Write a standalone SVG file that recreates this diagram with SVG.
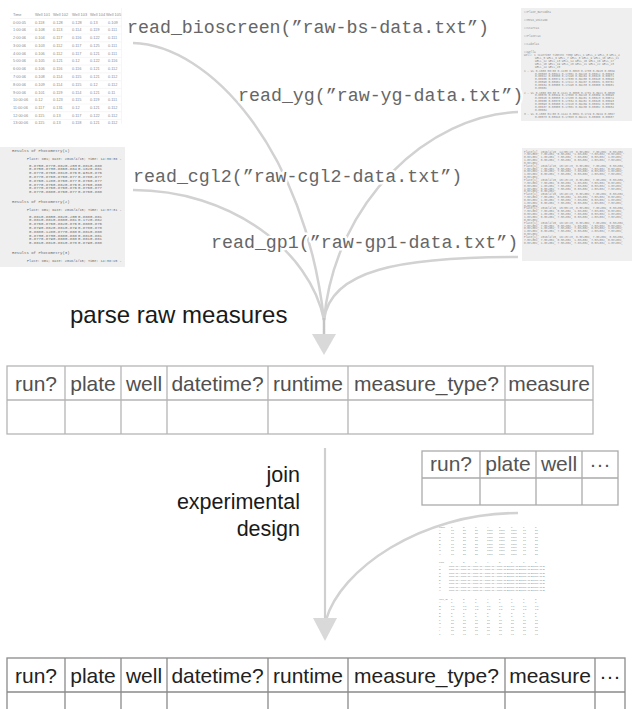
<svg xmlns="http://www.w3.org/2000/svg" width="632" height="709" viewBox="0 0 632 709">
<style>
.mono{font-family:"Liberation Mono","DejaVu Sans Mono",monospace;font-size:18.3px;fill:#666;stroke:#fff;stroke-width:5;stroke-linejoin:round;paint-order:stroke}
.big{font-family:"Liberation Sans",Arial,sans-serif;fill:#1a1a1a}
.th{font-family:"Liberation Sans",Arial,sans-serif;font-size:21px;text-anchor:middle}
.grid{fill:none;stroke-width:1.3}
.conn{fill:none;stroke:#d2d2d2;stroke-width:2.5}
.tt{font-family:"Liberation Sans",Arial,sans-serif;font-size:3.9px;fill:#8a8a8a}
.tm{font-family:"Liberation Mono","DejaVu Sans Mono",monospace;font-size:4px;fill:#6a6a6a}
.tp{font-family:"Liberation Mono","DejaVu Sans Mono",monospace;font-size:3.5px;fill:#6a6a6a}
.td{font-family:"Liberation Mono","DejaVu Sans Mono",monospace;font-size:2.8px;fill:#8c8c8c}
.tb{font-family:"Liberation Sans",Arial,sans-serif;font-size:2.5px;fill:#8a8a8a}
.panel{fill:#efefef}
</style>
<rect width="632" height="709" fill="#fff"/>

<g id="thumb-bioscreen">
<g stroke="#ececec" stroke-width="0.5">
<line x1="10" y1="18.5" x2="121" y2="18.5"/><line x1="10" y1="26.3" x2="121" y2="26.3"/><line x1="10" y1="34" x2="121" y2="34"/><line x1="10" y1="41.8" x2="121" y2="41.8"/><line x1="10" y1="49.6" x2="121" y2="49.6"/><line x1="10" y1="57.4" x2="121" y2="57.4"/><line x1="10" y1="65.1" x2="121" y2="65.1"/><line x1="10" y1="72.9" x2="121" y2="72.9"/><line x1="10" y1="80.7" x2="121" y2="80.7"/><line x1="10" y1="88.4" x2="121" y2="88.4"/><line x1="10" y1="96.2" x2="121" y2="96.2"/><line x1="10" y1="104" x2="121" y2="104"/><line x1="10" y1="111.7" x2="121" y2="111.7"/><line x1="10" y1="119.5" x2="121" y2="119.5"/>
<line x1="121.5" y1="8" x2="121.5" y2="124"/>
</g>
<text class="tt" y="15.8"><tspan x="13">Time</tspan><tspan x="35">Well 101</tspan><tspan x="53">Well 102</tspan><tspan x="72">Well 103</tspan><tspan x="90">Well 104</tspan><tspan x="106">Well 105</tspan></text>
<text class="tt" y="23.6"><tspan x="13">0:00:05</tspan><tspan x="35">0.118</tspan><tspan x="53">0.128</tspan><tspan x="72">0.128</tspan><tspan x="90">0.13</tspan><tspan x="108">0.109</tspan></text>
<text class="tt" y="31.3"><tspan x="13">1:00:06</tspan><tspan x="35">0.108</tspan><tspan x="53">0.113</tspan><tspan x="72">0.114</tspan><tspan x="90">0.119</tspan><tspan x="108">0.111</tspan></text>
<text class="tt" y="39.1"><tspan x="13">2:00:06</tspan><tspan x="35">0.104</tspan><tspan x="53">0.117</tspan><tspan x="72">0.116</tspan><tspan x="90">0.122</tspan><tspan x="108">0.111</tspan></text>
<text class="tt" y="46.9"><tspan x="13">3:00:06</tspan><tspan x="35">0.103</tspan><tspan x="53">0.112</tspan><tspan x="72">0.117</tspan><tspan x="90">0.125</tspan><tspan x="108">0.111</tspan></text>
<text class="tt" y="54.7"><tspan x="13">4:00:06</tspan><tspan x="35">0.106</tspan><tspan x="53">0.112</tspan><tspan x="72">0.117</tspan><tspan x="90">0.121</tspan><tspan x="108">0.111</tspan></text>
<text class="tt" y="62.4"><tspan x="13">5:00:06</tspan><tspan x="35">0.105</tspan><tspan x="53">0.121</tspan><tspan x="72">0.12</tspan><tspan x="90">0.122</tspan><tspan x="108">0.116</tspan></text>
<text class="tt" y="70.2"><tspan x="13">6:00:06</tspan><tspan x="35">0.106</tspan><tspan x="53">0.116</tspan><tspan x="72">0.116</tspan><tspan x="90">0.121</tspan><tspan x="108">0.112</tspan></text>
<text class="tt" y="78"><tspan x="13">7:00:06</tspan><tspan x="35">0.108</tspan><tspan x="53">0.114</tspan><tspan x="72">0.115</tspan><tspan x="90">0.121</tspan><tspan x="108">0.112</tspan></text>
<text class="tt" y="85.7"><tspan x="13">8:00:06</tspan><tspan x="35">0.109</tspan><tspan x="53">0.114</tspan><tspan x="72">0.115</tspan><tspan x="90">0.12</tspan><tspan x="108">0.112</tspan></text>
<text class="tt" y="93.5"><tspan x="13">9:00:06</tspan><tspan x="35">0.101</tspan><tspan x="53">0.119</tspan><tspan x="72">0.114</tspan><tspan x="90">0.121</tspan><tspan x="108">0.11</tspan></text>
<text class="tt" y="101.3"><tspan x="13">10:00:06</tspan><tspan x="35">0.12</tspan><tspan x="53">0.123</tspan><tspan x="72">0.115</tspan><tspan x="90">0.119</tspan><tspan x="108">0.111</tspan></text>
<text class="tt" y="109"><tspan x="13">11:00:06</tspan><tspan x="35">0.117</tspan><tspan x="53">0.131</tspan><tspan x="72">0.12</tspan><tspan x="90">0.121</tspan><tspan x="108">0.112</tspan></text>
<text class="tt" y="116.8"><tspan x="13">12:00:06</tspan><tspan x="35">0.115</tspan><tspan x="53">0.13</tspan><tspan x="72">0.117</tspan><tspan x="90">0.122</tspan><tspan x="108">0.112</tspan></text>
<text class="tt" y="123.6"><tspan x="13">13:00:06</tspan><tspan x="35">0.115</tspan><tspan x="53">0.13</tspan><tspan x="72">0.118</tspan><tspan x="90">0.121</tspan><tspan x="108">0.112</tspan></text>
</g>

<g id="thumb-yg">
<rect class="panel" x="521" y="8" width="111" height="113"/>
<text class="td"><tspan x="524" y="12.5">##Plate_Barcode=</tspan><tspan x="524" y="20.5">##Meas_Unit=OD</tspan><tspan x="524" y="28.5">##Start=1</tspan><tspan x="524" y="36.5">##Plate#=1</tspan><tspan x="524" y="44.5">##Label=1</tspan><tspan x="524" y="52.5">##Well=</tspan></text>
<text class="td"><tspan x="524" y="56">Well: 1 ScanTime TimeInt Temp WELL_1 WELL_2 WELL_3 WELL_4</tspan><tspan x="535" dy="2.9">WELL_5 WELL_6 WELL_7 WELL_8 WELL_9 WELL_10 WELL_11</tspan><tspan x="535" dy="2.9">WELL_12 WELL_13 WELL_14 WELL_15 WELL_16 WELL_17</tspan><tspan x="535" dy="2.9">WELL_18 WELL_19 WELL_20 WELL_21 WELL_22 WELL_23</tspan><tspan x="535" dy="2.9">WELL_24 WELL_25</tspan>
<tspan x="524" dy="4">1 - WL 0.1000 00:00 0.1138 0.0863 0.1735 0.0925 0.0869</tspan><tspan x="535" dy="2.9">0.08563 0.08621 0.17351 0.09215 0.08612 0.08693</tspan><tspan x="535" dy="2.9">0.08612 0.08530 0.17290 0.09284 0.08620 0.08671</tspan><tspan x="535" dy="2.9">0.08655 0.08574 0.17330 0.09250 0.08648 0.08690</tspan><tspan x="535" dy="2.9">0.08590 0.08602 0.17412 0.09207 0.08631 0.08702</tspan><tspan x="535" dy="2.9">0.08634 0.08588 0.17298 0.09233 0.08655 0.08681</tspan><tspan x="535" dy="2.9">0.08601</tspan>
<tspan x="524" dy="4.5">2 - WL 0.1000 00:30 0.1141 0.0858 0.1731 0.0921 0.0865</tspan><tspan x="535" dy="2.9">0.08570 0.08619 0.17360 0.09218 0.08609 0.08690</tspan><tspan x="535" dy="2.9">0.08615 0.08533 0.17288 0.09281 0.08623 0.08674</tspan><tspan x="535" dy="2.9">0.08658 0.08570 0.17334 0.09252 0.08645 0.08693</tspan><tspan x="535" dy="2.9">0.08593 0.08600 0.17410 0.09209 0.08634 0.08700</tspan><tspan x="535" dy="2.9">0.08637 0.08585 0.17301 0.09230 0.08652 0.08684</tspan><tspan x="535" dy="2.9">0.08604</tspan>
<tspan x="524" dy="4.5">3 - WL 0.1000 01:00 0.1144 0.0861 0.1729 0.0919 0.0867</tspan><tspan x="535" dy="2.9">0.08573 0.08616 0.17363 0.09221 0.08606 0.08687</tspan></text>
</g>

<g id="thumb-cgl2">
<rect class="panel" x="0" y="147" width="125" height="120"/>
<text class="tm" x="12" y="152">Results of Photometry(1)</text>
<text class="tp" x="27" y="159.5">Plate: CG1; Date: 2016/4/15; Time: 14:36:36 -</text>
<text class="tm"><tspan x="29" y="166.5">0.875</tspan><tspan x="41">0.877</tspan><tspan x="53">0.882</tspan><tspan x="65">0.203</tspan><tspan x="78">0.881</tspan><tspan x="90">0.888</tspan>
<tspan x="29" y="170.3">0.875</tspan><tspan x="41">0.873</tspan><tspan x="53">0.886</tspan><tspan x="65">0.884</tspan><tspan x="78">0.182</tspan><tspan x="90">0.881</tspan>
<tspan x="29" y="174.1">0.877</tspan><tspan x="41">0.876</tspan><tspan x="53">0.881</tspan><tspan x="65">0.876</tspan><tspan x="78">0.931</tspan><tspan x="90">0.876</tspan>
<tspan x="29" y="177.9">0.877</tspan><tspan x="41">0.876</tspan><tspan x="53">0.876</tspan><tspan x="65">0.877</tspan><tspan x="78">0.878</tspan><tspan x="90">0.877</tspan>
<tspan x="29" y="181.7">0.876</tspan><tspan x="41">0.128</tspan><tspan x="53">0.876</tspan><tspan x="65">0.877</tspan><tspan x="78">0.876</tspan><tspan x="90">0.877</tspan>
<tspan x="29" y="185.5">0.877</tspan><tspan x="41">0.876</tspan><tspan x="53">0.882</tspan><tspan x="65">0.876</tspan><tspan x="78">0.876</tspan><tspan x="90">0.888</tspan>
<tspan x="29" y="189.3">0.877</tspan><tspan x="41">0.876</tspan><tspan x="53">0.876</tspan><tspan x="65">0.876</tspan><tspan x="78">0.876</tspan><tspan x="90">0.877</tspan>
<tspan x="29" y="193.1">0.877</tspan><tspan x="41">0.888</tspan><tspan x="53">0.876</tspan><tspan x="65">0.877</tspan><tspan x="78">0.876</tspan><tspan x="90">0.888</tspan></text>
<text class="tm" x="12" y="203">Results of Photometry(2)</text>
<text class="tp" x="27" y="210.5">Plate: CG1; Date: 2016/4/15; Time: 14:37:31 -</text>
<text class="tm"><tspan x="29" y="217.5">0.881</tspan><tspan x="41">0.880</tspan><tspan x="53">0.882</tspan><tspan x="65">0.200</tspan><tspan x="78">0.888</tspan><tspan x="90">0.881</tspan>
<tspan x="29" y="221.3">0.881</tspan><tspan x="41">0.881</tspan><tspan x="53">0.888</tspan><tspan x="65">0.881</tspan><tspan x="78">0.172</tspan><tspan x="90">0.882</tspan>
<tspan x="29" y="225.1">0.876</tspan><tspan x="41">0.876</tspan><tspan x="53">0.882</tspan><tspan x="65">0.876</tspan><tspan x="78">0.888</tspan><tspan x="90">0.876</tspan>
<tspan x="29" y="228.9">0.879</tspan><tspan x="41">0.882</tspan><tspan x="53">0.881</tspan><tspan x="65">0.879</tspan><tspan x="78">0.878</tspan><tspan x="90">0.878</tspan>
<tspan x="29" y="232.7">0.888</tspan><tspan x="41">0.128</tspan><tspan x="53">0.877</tspan><tspan x="65">0.888</tspan><tspan x="78">0.881</tspan><tspan x="90">0.888</tspan>
<tspan x="29" y="236.5">0.873</tspan><tspan x="41">0.873</tspan><tspan x="53">0.888</tspan><tspan x="65">0.888</tspan><tspan x="78">0.881</tspan><tspan x="90">0.881</tspan>
<tspan x="29" y="240.3">0.877</tspan><tspan x="41">0.879</tspan><tspan x="53">0.888</tspan><tspan x="65">0.888</tspan><tspan x="78">0.881</tspan><tspan x="90">0.881</tspan>
<tspan x="29" y="244.1">0.881</tspan><tspan x="41">0.881</tspan><tspan x="53">0.881</tspan><tspan x="65">0.878</tspan><tspan x="78">0.879</tspan><tspan x="90">0.888</tspan></text>
<text class="tm" x="12" y="254">Results of Photometry(3)</text>
<text class="tp" x="27" y="261.5">Plate: CG1; Date: 2016/4/15; Time: 14:38:15 -</text>
</g>

<g id="thumb-gp1">
<rect class="panel" x="522" y="148" width="110" height="113"/>
<text class="td"><tspan x="524" y="152.5">Plate[1], 2016/4/15, 14:55:23, 0.5e+002, 7.0e+002, 0.5e+002,</tspan><tspan x="524" dy="2.85">7.5e+002, 7.5e+002, 0.5e+002, 1.0e+002, 7.5e+002, 0.5e+002,</tspan><tspan x="524" dy="2.85">0.5e+002, 1.0e+002, 7.5e+002, 7.0e+002, 0.5e+002, 1.0e+002,</tspan><tspan x="524" dy="2.85">1.0e+002, 0.5e+002, 7.5e+002, 0.5e+002, 2.0e+002, 7.5e+002,</tspan><tspan x="524" dy="2.85">0.5e+002,</tspan>
<tspan x="524" dy="2.85">Plate[1], 2016/4/15, 15:10:23, 0.5e+002, 7.0e+002, 0.5e+002,</tspan><tspan x="524" dy="2.85">7.5e+002, 7.5e+002, 0.5e+002, 1.0e+002, 7.5e+002, 0.5e+002,</tspan><tspan x="524" dy="2.85">0.5e+002, 1.0e+002, 7.5e+002, 7.0e+002, 0.5e+002, 1.0e+002,</tspan><tspan x="524" dy="2.85">1.0e+002, 0.5e+002, 7.5e+002, 0.5e+002, 2.0e+002, 7.5e+002,</tspan><tspan x="524" dy="2.85">0.5e+002,</tspan>
<tspan x="524" dy="2.85">Plate[1], 2016/4/15, 15:25:23, 0.5e+002, 7.0e+002, 0.5e+002,</tspan><tspan x="524" dy="2.85">7.5e+002, 7.5e+002, 0.5e+002, 1.0e+002, 7.5e+002, 0.5e+002,</tspan><tspan x="524" dy="2.85">0.5e+002, 1.0e+002, 7.5e+002, 7.0e+002, 0.5e+002, 1.0e+002,</tspan><tspan x="524" dy="2.85">1.0e+002, 0.5e+002, 7.5e+002, 0.5e+002, 2.0e+002, 7.5e+002,</tspan><tspan x="524" dy="2.85">0.5e+002, 0.5e+002,</tspan>
<tspan x="524" dy="2.85">Plate[1], 2016/4/15, 15:40:23, 0.5e+002, 7.0e+002, 0.5e+002,</tspan><tspan x="524" dy="2.85">7.5e+002, 7.5e+002, 0.5e+002, 1.0e+002, 7.5e+002, 0.5e+002,</tspan><tspan x="524" dy="2.85">0.5e+002, 1.0e+002, 7.5e+002, 7.0e+002, 0.5e+002, 1.0e+002,</tspan><tspan x="524" dy="2.85">1.0e+002, 0.5e+002, 7.5e+002, 0.5e+002, 2.0e+002, 7.5e+002,</tspan><tspan x="524" dy="2.85">0.5e+002,</tspan>
<tspan x="524" dy="2.85">Plate[1], 2016/4/15, 15:55:23, 0.5e+002, 7.0e+002, 0.5e+002,</tspan><tspan x="524" dy="2.85">7.5e+002, 7.5e+002, 0.5e+002, 1.0e+002, 7.5e+002, 0.5e+002,</tspan><tspan x="524" dy="2.85">0.5e+002, 1.0e+002, 7.5e+002, 7.0e+002, 0.5e+002, 1.0e+002,</tspan><tspan x="524" dy="2.85">1.0e+002, 0.5e+002, 7.5e+002, 0.5e+002, 2.0e+002, 7.5e+002,</tspan><tspan x="524" dy="2.85">0.5e+002,</tspan>
<tspan x="524" dy="2.85">Plate[1], 2016/4/15, 16:10:23, 0.5e+002, 7.0e+002, 0.5e+002,</tspan><tspan x="524" dy="2.85">7.5e+002, 7.5e+002, 0.5e+002, 1.0e+002, 7.5e+002, 0.5e+002,</tspan><tspan x="524" dy="2.85">0.5e+002, 1.0e+002, 7.5e+002, 7.0e+002, 0.5e+002, 1.0e+002,</tspan><tspan x="524" dy="2.85">1.0e+002, 0.5e+002, 7.5e+002, 0.5e+002, 2.0e+002, 7.5e+002,</tspan><tspan x="524" dy="2.85">0.5e+002,</tspan>
<tspan x="524" dy="2.85">Plate[1], 2016/4/15, 16:25:23, 0.5e+002, 7.0e+002, 0.5e+002,</tspan><tspan x="524" dy="2.85">7.5e+002, 7.5e+002, 0.5e+002, 1.0e+002, 7.5e+002, 0.5e+002,</tspan><tspan x="524" dy="2.85">0.5e+002, 1.0e+002, 7.5e+002, 7.0e+002, 0.5e+002, 1.0e+002,</tspan></text>
</g>

<g id="thumb-design">
<text class="tb"><tspan y="527.5" x="439">name</tspan><tspan x="451">1</tspan><tspan x="463">2</tspan><tspan x="475">3</tspan><tspan x="487">4</tspan><tspan x="499">5</tspan><tspan x="511">6</tspan><tspan x="523">7</tspan><tspan x="535">8</tspan>
<tspan y="531" x="439">A</tspan><tspan x="451">10</tspan><tspan x="463">20</tspan><tspan x="475">20</tspan><tspan x="487">1000</tspan><tspan x="499">1000</tspan><tspan x="511">1000</tspan><tspan x="523">10</tspan><tspan x="535">20</tspan>
<tspan y="534.4" x="439">B</tspan><tspan x="451">10</tspan><tspan x="463">20</tspan><tspan x="475">20</tspan><tspan x="487">1000</tspan><tspan x="499">1000</tspan><tspan x="511">1000</tspan><tspan x="523">10</tspan><tspan x="535">20</tspan>
<tspan y="537.8" x="439">C</tspan><tspan x="451">10</tspan><tspan x="463">20</tspan><tspan x="475">20</tspan><tspan x="487">1000</tspan><tspan x="499">1000</tspan><tspan x="511">1000</tspan><tspan x="523">10</tspan><tspan x="535">20</tspan>
<tspan y="541.2" x="439">D</tspan><tspan x="451">10</tspan><tspan x="463">20</tspan><tspan x="475">20</tspan><tspan x="487">1000</tspan><tspan x="499">1000</tspan><tspan x="511">1000</tspan><tspan x="523">10</tspan><tspan x="535">20</tspan>
<tspan y="544.6" x="439">E</tspan><tspan x="451">10</tspan><tspan x="463">20</tspan><tspan x="475">20</tspan><tspan x="487">1000</tspan><tspan x="499">1000</tspan><tspan x="511">1000</tspan><tspan x="523">10</tspan><tspan x="535">20</tspan>
<tspan y="548" x="439">F</tspan><tspan x="451">10</tspan><tspan x="463">20</tspan><tspan x="475">20</tspan><tspan x="487">1000</tspan><tspan x="499">1000</tspan><tspan x="511">1000</tspan><tspan x="523">10</tspan><tspan x="535">20</tspan>
<tspan y="551.4" x="439">G</tspan><tspan x="451">10</tspan><tspan x="463">20</tspan><tspan x="475">20</tspan><tspan x="487">1000</tspan><tspan x="499">1000</tspan><tspan x="511">1000</tspan><tspan x="523">10</tspan><tspan x="535">20</tspan>
<tspan y="554.8" x="439">H</tspan><tspan x="451">10</tspan><tspan x="463">20</tspan><tspan x="475">20</tspan><tspan x="487">1000</tspan><tspan x="499">1000</tspan><tspan x="511">1000</tspan><tspan x="523">10</tspan><tspan x="535">20</tspan></text>
<text class="tb"><tspan y="563" x="439">Flag</tspan><tspan x="451">1</tspan><tspan x="463">2</tspan><tspan x="475">3</tspan><tspan x="487">4</tspan><tspan x="499">5</tspan><tspan x="511">6</tspan><tspan x="523">7</tspan><tspan x="535">8</tspan>
<tspan y="566.5" x="439">A</tspan><tspan x="449">STRAIN-A</tspan><tspan x="461">STRAIN-A</tspan><tspan x="473">STRAIN-A</tspan><tspan x="485">STRAIN-A</tspan><tspan x="497">STRAIN-B</tspan><tspan x="509">STRAIN-B</tspan><tspan x="521">STRAIN-B</tspan><tspan x="533">STRAIN-B</tspan>
<tspan y="570" x="439">B</tspan><tspan x="449">STRAIN-A</tspan><tspan x="461">STRAIN-A</tspan><tspan x="473">STRAIN-A</tspan><tspan x="485">STRAIN-A</tspan><tspan x="497">STRAIN-B</tspan><tspan x="509">STRAIN-B</tspan><tspan x="521">STRAIN-B</tspan><tspan x="533">STRAIN-B</tspan>
<tspan y="573.5" x="439">C</tspan><tspan x="449">STRAIN-A</tspan><tspan x="461">STRAIN-A</tspan><tspan x="473">STRAIN-A</tspan><tspan x="485">STRAIN-A</tspan><tspan x="497">STRAIN-B</tspan><tspan x="509">STRAIN-B</tspan><tspan x="521">STRAIN-B</tspan><tspan x="533">STRAIN-B</tspan>
<tspan y="577" x="439">D</tspan><tspan x="449">STRAIN-A</tspan><tspan x="461">STRAIN-A</tspan><tspan x="473">STRAIN-A</tspan><tspan x="485">STRAIN-A</tspan><tspan x="497">STRAIN-B</tspan><tspan x="509">STRAIN-B</tspan><tspan x="521">STRAIN-B</tspan><tspan x="533">STRAIN-B</tspan>
<tspan y="580.5" x="439">E</tspan><tspan x="449">STRAIN-A</tspan><tspan x="461">STRAIN-A</tspan><tspan x="473">STRAIN-A</tspan><tspan x="485">STRAIN-A</tspan><tspan x="497">STRAIN-B</tspan><tspan x="509">STRAIN-B</tspan><tspan x="521">STRAIN-B</tspan><tspan x="533">STRAIN-B</tspan>
<tspan y="584" x="439">F</tspan><tspan x="449">STRAIN-A</tspan><tspan x="461">STRAIN-A</tspan><tspan x="473">STRAIN-A</tspan><tspan x="485">STRAIN-A</tspan><tspan x="497">STRAIN-B</tspan><tspan x="509">STRAIN-B</tspan><tspan x="521">STRAIN-B</tspan><tspan x="533">STRAIN-B</tspan>
<tspan y="587.5" x="439">G</tspan><tspan x="449">STRAIN-A</tspan><tspan x="461">STRAIN-A</tspan><tspan x="473">STRAIN-A</tspan><tspan x="485">STRAIN-A</tspan><tspan x="497">STRAIN-B</tspan><tspan x="509">STRAIN-B</tspan><tspan x="521">STRAIN-B</tspan><tspan x="533">STRAIN-B</tspan>
<tspan y="591" x="439">H</tspan><tspan x="449">STRAIN-A</tspan><tspan x="461">STRAIN-A</tspan><tspan x="473">STRAIN-A</tspan><tspan x="485">STRAIN-A</tspan><tspan x="497">STRAIN-B</tspan><tspan x="509">STRAIN-B</tspan><tspan x="521">STRAIN-B</tspan><tspan x="533">STRAIN-B</tspan></text>
<text class="tb"><tspan y="599.5" x="439">Well_ID</tspan><tspan x="451">1</tspan><tspan x="463">2</tspan><tspan x="475">3</tspan><tspan x="487">4</tspan><tspan x="499">5</tspan><tspan x="511">6</tspan><tspan x="523">7</tspan><tspan x="535">8</tspan>
<tspan y="603" x="439">A</tspan><tspan x="451">0</tspan><tspan x="463">0</tspan><tspan x="475">0</tspan><tspan x="487">0</tspan><tspan x="499">0</tspan><tspan x="511">0</tspan><tspan x="523">0</tspan><tspan x="535">0</tspan>
<tspan y="606.5" x="439">B</tspan><tspan x="451">0.1</tspan><tspan x="463">0.1</tspan><tspan x="475">0.1</tspan><tspan x="487">0.1</tspan><tspan x="499">0.1</tspan><tspan x="511">0.1</tspan><tspan x="523">0.1</tspan><tspan x="535">0.1</tspan>
<tspan y="610" x="439">C</tspan><tspan x="451">1.5</tspan><tspan x="463">1.5</tspan><tspan x="475">1.5</tspan><tspan x="487">1.5</tspan><tspan x="499">1.5</tspan><tspan x="511">1.5</tspan><tspan x="523">1.5</tspan><tspan x="535">1.5</tspan>
<tspan y="613.5" x="439">D</tspan><tspan x="451">5</tspan><tspan x="463">5</tspan><tspan x="475">5</tspan><tspan x="487">5</tspan><tspan x="499">5</tspan><tspan x="511">5</tspan><tspan x="523">5</tspan><tspan x="535">5</tspan>
<tspan y="617" x="439">E</tspan><tspan x="451">8</tspan><tspan x="463">8</tspan><tspan x="475">8</tspan><tspan x="487">8</tspan><tspan x="499">8</tspan><tspan x="511">8</tspan><tspan x="523">8</tspan><tspan x="535">8</tspan>
<tspan y="620.5" x="439">F</tspan><tspan x="451">10</tspan><tspan x="463">10</tspan><tspan x="475">10</tspan><tspan x="487">10</tspan><tspan x="499">10</tspan><tspan x="511">10</tspan><tspan x="523">10</tspan><tspan x="535">10</tspan>
<tspan y="624" x="439">G</tspan><tspan x="451">20</tspan><tspan x="463">20</tspan><tspan x="475">20</tspan><tspan x="487">20</tspan><tspan x="499">20</tspan><tspan x="511">20</tspan><tspan x="523">20</tspan><tspan x="535">20</tspan>
<tspan y="627.5" x="439">H</tspan><tspan x="451">50</tspan><tspan x="463">50</tspan><tspan x="475">50</tspan><tspan x="487">50</tspan><tspan x="499">50</tspan><tspan x="511">50</tspan><tspan x="523">50</tspan><tspan x="535">50</tspan>
<tspan y="631" x="439">I</tspan><tspan x="451">80</tspan><tspan x="463">80</tspan><tspan x="475">80</tspan><tspan x="487">80</tspan><tspan x="499">80</tspan><tspan x="511">80</tspan><tspan x="523">80</tspan><tspan x="535">80</tspan>
<tspan y="634.5" x="439">J</tspan><tspan x="451">90</tspan><tspan x="463">90</tspan><tspan x="475">90</tspan><tspan x="487">90</tspan><tspan x="499">90</tspan><tspan x="511">90</tspan><tspan x="523">90</tspan><tspan x="535">90</tspan></text>
</g>

<g id="connectors">
<path class="conn" d="M133,43 C210,45 305,150 324,320"/>
<path class="conn" d="M518,112 C430,115 335,200 324,320"/>
<path class="conn" d="M133,190 C230,190 310,250 324,320"/>
<path class="conn" d="M518,257 C400,257 330,270 324,320"/>
<line x1="324" y1="318" x2="324" y2="336" stroke="#c4c4c4" stroke-width="2.5"/>
<polygon points="312,334 336,334 324,355" fill="#d9d9d9"/>
<line x1="325" y1="448" x2="325" y2="620" stroke="#cfcfcf" stroke-width="2.2"/>
<path class="conn" d="M518,513 C420,513 340,570 326,620" stroke-width="3"/>
<polygon points="313,618 337,618 325,641" fill="#d9d9d9"/>
</g>

<g id="label-bioscreen"><text class="mono" x="127" y="33">read_bioscreen(”raw-bs-data.txt”)</text></g>
<g id="label-yg"><text class="mono" x="238" y="101">read_yg(”raw-yg-data.txt”)</text></g>
<g id="label-cgl2"><text class="mono" x="133" y="182">read_cgl2(”raw-cgl2-data.txt”)</text></g>
<g id="label-gp1"><text class="mono" x="211" y="248">read_gp1(”raw-gp1-data.txt”)</text></g>

<g id="label-parse"><text class="big" x="70" y="323" font-size="24">parse raw measures</text></g>
<g id="label-join"><text class="big" font-size="21.5" text-anchor="end"><tspan x="300" y="482">join</tspan><tspan x="300" y="509">experimental</tspan><tspan x="300" y="536">design</tspan></text></g>

<g id="table-raw">
<rect class="grid" x="7" y="366" width="586" height="68" stroke="#b5b5b5"/>
<path class="grid" stroke="#b5b5b5" d="M7,400H593M65,366V434M121,366V434M167,366V434M268,366V434M348,366V434M505,366V434"/>
<text class="th" y="391" fill="#505050"><tspan x="36">run?</tspan><tspan x="93">plate</tspan><tspan x="144">well</tspan><tspan x="217.5">datetime?</tspan><tspan x="308">runtime</tspan><tspan x="426.5">measure_type?</tspan><tspan x="549">measure</tspan></text>
</g>

<g id="table-design">
<rect class="grid" x="422" y="451" width="196" height="54" stroke="#ababab"/>
<path class="grid" stroke="#ababab" d="M422,478H618M480,451V505M536,451V505M582,451V505"/>
<text class="th" y="471" fill="#555"><tspan x="451">run?</tspan><tspan x="508">plate</tspan><tspan x="559">well</tspan><tspan x="600">···</tspan></text>
</g>

<g id="table-joined">
<rect class="grid" x="7" y="658" width="618" height="80" stroke="#8a8a8a"/>
<path class="grid" stroke="#8a8a8a" d="M7,692H625M65,658V709M121,658V709M167,658V709M268,658V709M348,658V709M505,658V709M595,658V709"/>
<text class="th" y="683" fill="#222"><tspan x="36">run?</tspan><tspan x="93">plate</tspan><tspan x="144">well</tspan><tspan x="217.5">datetime?</tspan><tspan x="308">runtime</tspan><tspan x="426.5">measure_type?</tspan><tspan x="550">measure</tspan><tspan x="610">···</tspan></text>
</g>
</svg>
